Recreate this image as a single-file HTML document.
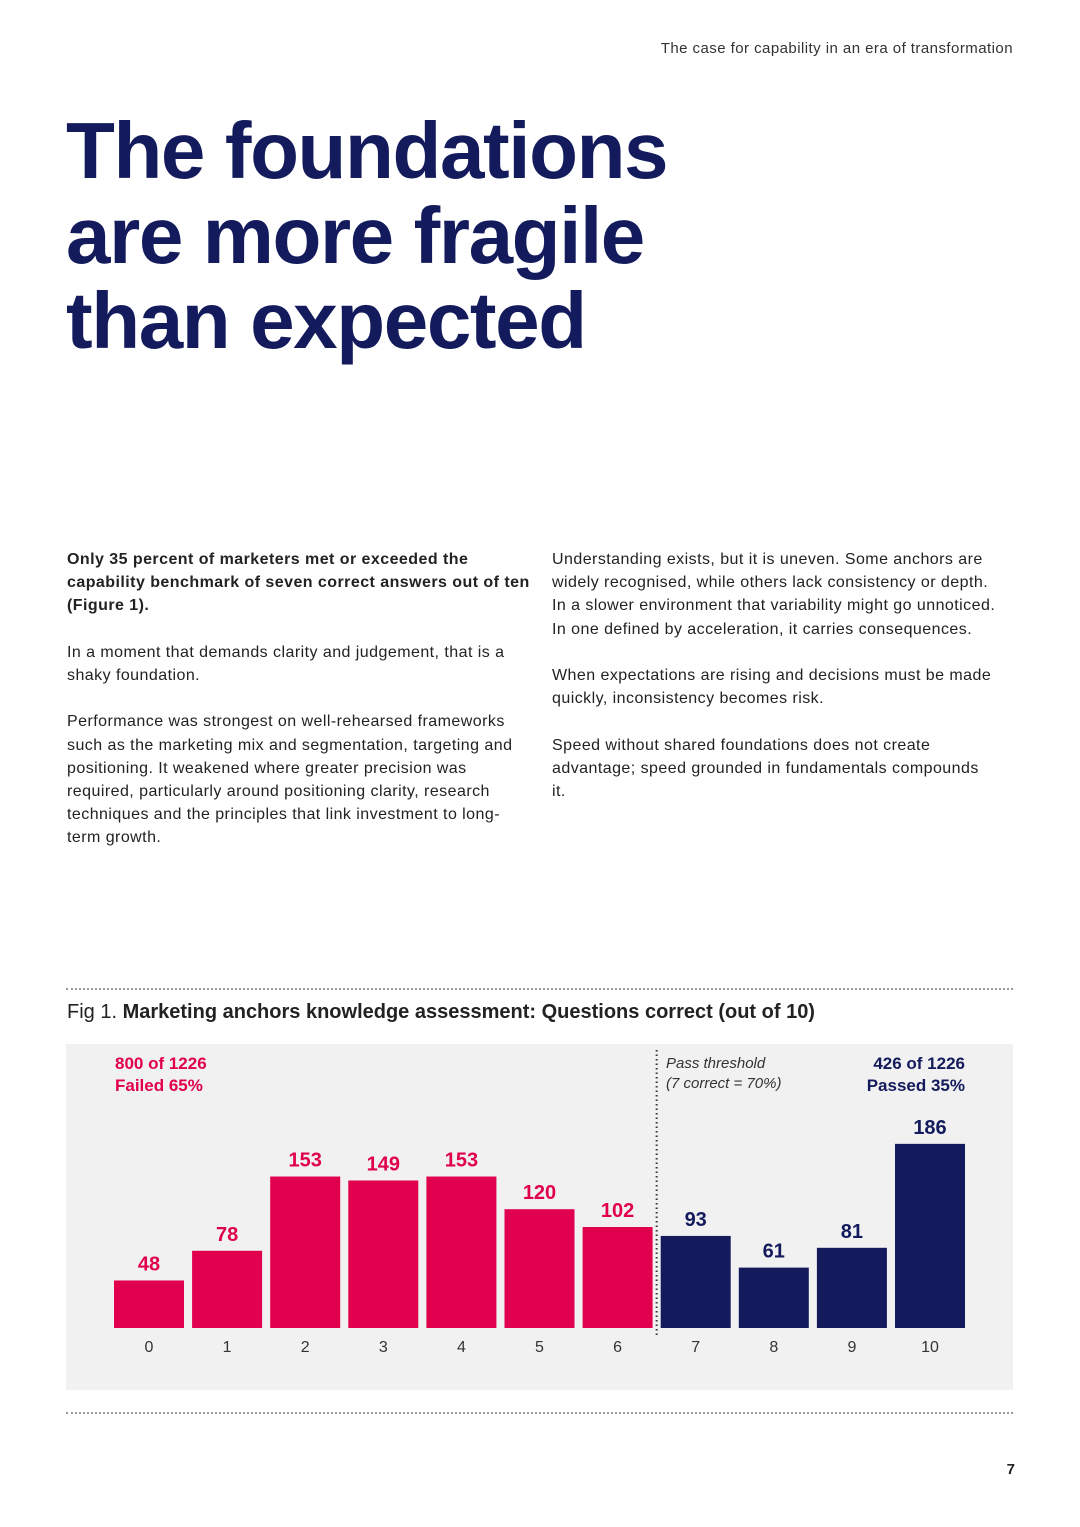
<!DOCTYPE html>
<html><head><meta charset="utf-8"><style>
body{margin:0;width:1080px;height:1527px;background:#fff;font-family:"Liberation Sans",sans-serif;position:relative;overflow:hidden;color:#222}
.a{position:absolute}
h1{position:absolute;left:66px;top:108px;margin:0;font-size:80px;line-height:85px;font-weight:bold;color:#141b5c;letter-spacing:-1.4px}
.p{font-size:16px;line-height:23.2px;color:#222;letter-spacing:0.45px}
.dot{position:absolute;left:66px;width:947px;border-top:2px dotted #999}
</style></head><body>
<div class="a" style="right:67px;top:40px;font-size:15px;color:#333;letter-spacing:0.45px">The case for capability in an era of transformation</div>
<h1>The foundations<br>are more fragile<br>than expected</h1>
<div class="a p" style="left:67px;top:548px;width:465px">
<b>Only 35 percent of marketers met or exceeded the capability benchmark of seven correct answers out of ten (Figure 1).</b><br><br>
In a moment that demands clarity and judgement, that is a shaky foundation.<br><br>
Performance was strongest on well-rehearsed frameworks such as the marketing mix and segmentation, targeting and positioning. It weakened where greater precision was required, particularly around positioning clarity, research techniques and the principles that link investment to long-term growth.</div>
<div class="a p" style="left:552px;top:548px;width:480px;white-space:nowrap;letter-spacing:0.45px">
Understanding exists, but it is uneven. Some anchors are<br>widely recognised, while others lack consistency or depth.<br>In a slower environment that variability might go unnoticed.<br>In one defined by acceleration, it carries consequences.<br><br>
When expectations are rising and decisions must be made<br>quickly, inconsistency becomes risk.<br><br>
Speed without shared foundations does not create<br>advantage; speed grounded in fundamentals compounds<br>it.</div>
<div class="dot" style="top:988px"></div>
<div class="a" style="left:67px;top:1001px;font-size:20px;color:#222">Fig 1. <b>Marketing anchors knowledge assessment: Questions correct (out of 10)</b></div>
<div class="a" style="left:66px;top:1044px;width:947px;height:346px;background:#f1f1f1"></div>
<svg class="a" id="chart" style="left:0;top:0" width="1080" height="1527"></svg>
<div class="dot" style="top:1412px"></div>
<div class="a" style="right:65px;top:1461px;font-size:15px;font-weight:bold;color:#222">7</div>
<script>
const categories=[0,1,2,3,4,5,6,7,8,9,10];
const counts=[48,78,153,149,153,120,102,93,61,81,186];
const passFrom=7;
const NS="http://www.w3.org/2000/svg";
const svg=document.getElementById('chart');
const baseY=1328, scale=0.99, x0=149, pitch=78.1, bw=70;
const xf=i=>x0+i*pitch, yf=v=>baseY-v*scale;
function mk(t,a,txt){const e=document.createElementNS(NS,t);for(const k in a)e.setAttribute(k,a[k]);if(txt!=null)e.textContent=txt;svg.appendChild(e);return e;}
categories.forEach((c,i)=>{
 const col=c>=passFrom?'#141b5c':'#e0004d';
 const r=mk('rect',{x:xf(i)-bw/2,y:yf(counts[i]),width:bw,height:counts[i]*scale,fill:col});
 
 
 const t=mk('text',{x:xf(i),y:yf(counts[i])-10,'text-anchor':'middle','font-size':20,'font-weight':'bold',fill:col,'font-family':'Liberation Sans'},counts[i]);
 
 
 const l=mk('text',{x:xf(i),y:1352,'text-anchor':'middle','font-size':16,fill:'#333','font-family':'Liberation Sans'},c);
 
 
});
const tx=(xf(passFrom-1)+xf(passFrom))/2;
const th=mk('line',{x1:tx,x2:tx,y1:1050,y2:1335,stroke:'#333','stroke-width':2,'stroke-dasharray':'1.5,3'});


const anns=[[115,1069,'800 of 1226','start','#e0004d','bold'],[115,1091,'Failed 65%','start','#e0004d','bold'],[965,1069,'426 of 1226','end','#141b5c','bold'],[965,1091,'Passed 35%','end','#141b5c','bold'],[666,1068,'Pass threshold','start','#333','italic'],[666,1088,'(7 correct = 70%)','start','#333','italic']];
anns.forEach(a=>{const t=mk('text',{x:a[0],y:a[1],'text-anchor':a[3],fill:a[4],'font-size':a[5]=='bold'?17:15,'font-weight':a[5]=='bold'?'bold':'normal','font-style':a[5]=='italic'?'italic':'normal','font-family':'Liberation Sans'},a[2]);

});
</script>
</body></html>
